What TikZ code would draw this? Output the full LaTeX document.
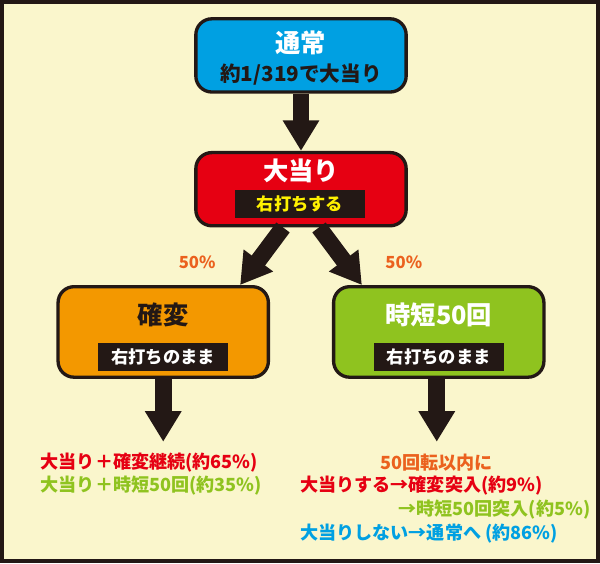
\documentclass[tikz,border=0pt]{standalone}
\usepackage{fontspec}
\setmainfont{Noto Sans CJK JP}
\usetikzlibrary{arrows.meta, positioning, calc}
\definecolor{bgcolor}{RGB}{250,246,204}
\definecolor{framecolor}{RGB}{35,24,21}
\definecolor{normalcolor}{RGB}{0,160,226}
\definecolor{hitcolor}{RGB}{230,0,18}
\definecolor{kakuhencolor}{RGB}{243,152,0}
\definecolor{jitancolor}{RGB}{143,195,31}
\definecolor{pctcolor}{RGB}{235,97,30}
\definecolor{tagyellow}{RGB}{255,241,0}
\begin{document}
\begin{tikzpicture}[x=0.75pt, y=-0.75pt,
    box/.style={draw=framecolor, line width=2.5pt, rounded corners=12pt, minimum width=158pt, minimum height=55pt},
    bigbox/.style={box, minimum height=68pt},
    title/.style={font=\bfseries\fontsize{19}{19}\selectfont},
    tag/.style={fill=framecolor, inner sep=0pt, minimum width=98pt, minimum height=21pt, font=\bfseries\fontsize{13}{13}\selectfont},
    bigarrow/.style={framecolor, line width=12.5pt, -{Triangle[width=26pt,length=23pt]}},
    note/.style={font=\bfseries\fontsize{13.6}{13.6}\selectfont, inner sep=0pt}]
    % 背景
    \draw[fill=bgcolor, draw=framecolor, line width=3pt] (1.5,1.5) rectangle (598.5,561.5);

    % === 通常 ===
    \node[box, fill=normalcolor] (normal) at (301,55) {};
    \node[title, white] at (301,42) {通常};
    \node[font=\bfseries\fontsize{15.5}{15.5}\selectfont, text=framecolor] at (301,74) {約1/319で大当り};

    % === 大当り ===
    \node[box, fill=hitcolor] (hit) at (301,189) {};
    \node[title, white] at (301,171) {大当り};
    \node[tag, text=tagyellow] at (300,204) {右打ちする};

    % === 確変 ===
    \node[bigbox, fill=kakuhencolor] (kakuhen) at (163,332) {};
    \node[title, text=framecolor] at (163,315) {確変};
    \node[tag, text=white] at (163,357) {右打ちのまま};

    % === 時短50回 ===
    \node[bigbox, fill=jitancolor] (jitan) at (439,332) {};
    \node[title, white] at (439,315) {時短50回};
    \node[tag, text=white] at (439,357) {右打ちのまま};

    % 矢印
    \draw[bigarrow] (normal.south) -- (hit.north);
    \coordinate (hitL) at ($(hit.south)+(-18,0)$);
    \coordinate (hitR) at ($(hit.south)+(18,0)$);
    \coordinate (kakuhenIn) at ($(kakuhen.north)+(77,0)$);
    \coordinate (jitanIn) at ($(jitan.north)+(-77,0)$);
    \draw[bigarrow] (hitL) -- (kakuhenIn);
    \draw[bigarrow] (hitR) -- (jitanIn);
    \node[font=\bfseries\fontsize{12.5}{12.5}\selectfont, pctcolor] (pctL) at (197,262) {50\%};
    \node[font=\bfseries\fontsize{12.5}{12.5}\selectfont, pctcolor] (pctR) at (404,262) {50\%};
    \coordinate (kakuhenOut) at (163,442);
    \coordinate (jitanOut) at (437,442);
    \draw[bigarrow] (kakuhen.south) -- (kakuhenOut);
    \draw[bigarrow] ($(jitan.south)+(-2,0)$) -- (jitanOut);

    % 結果
    \node[note, hitcolor, anchor=west] (k1) at (40,463) {大当り＋確変継続(約65\%)};
    \node[note, jitancolor, anchor=west] (k2) at (40,486) {大当り＋時短50回(約35\%)};
    \node[note, pctcolor] (j0) at (437,463) {50回転以内に};
    \node[note, hitcolor, anchor=west] (j1) at (300,486) {大当りする→確変突入(約9\%)};
    \node[note, jitancolor, anchor=east] (j2) at (591,510) {→時短50回突入(約5\%)};
    \node[note, normalcolor, anchor=west] (j3) at (300,534) {大当りしない→通常へ (約86\%)};
\end{tikzpicture}
\end{document}
